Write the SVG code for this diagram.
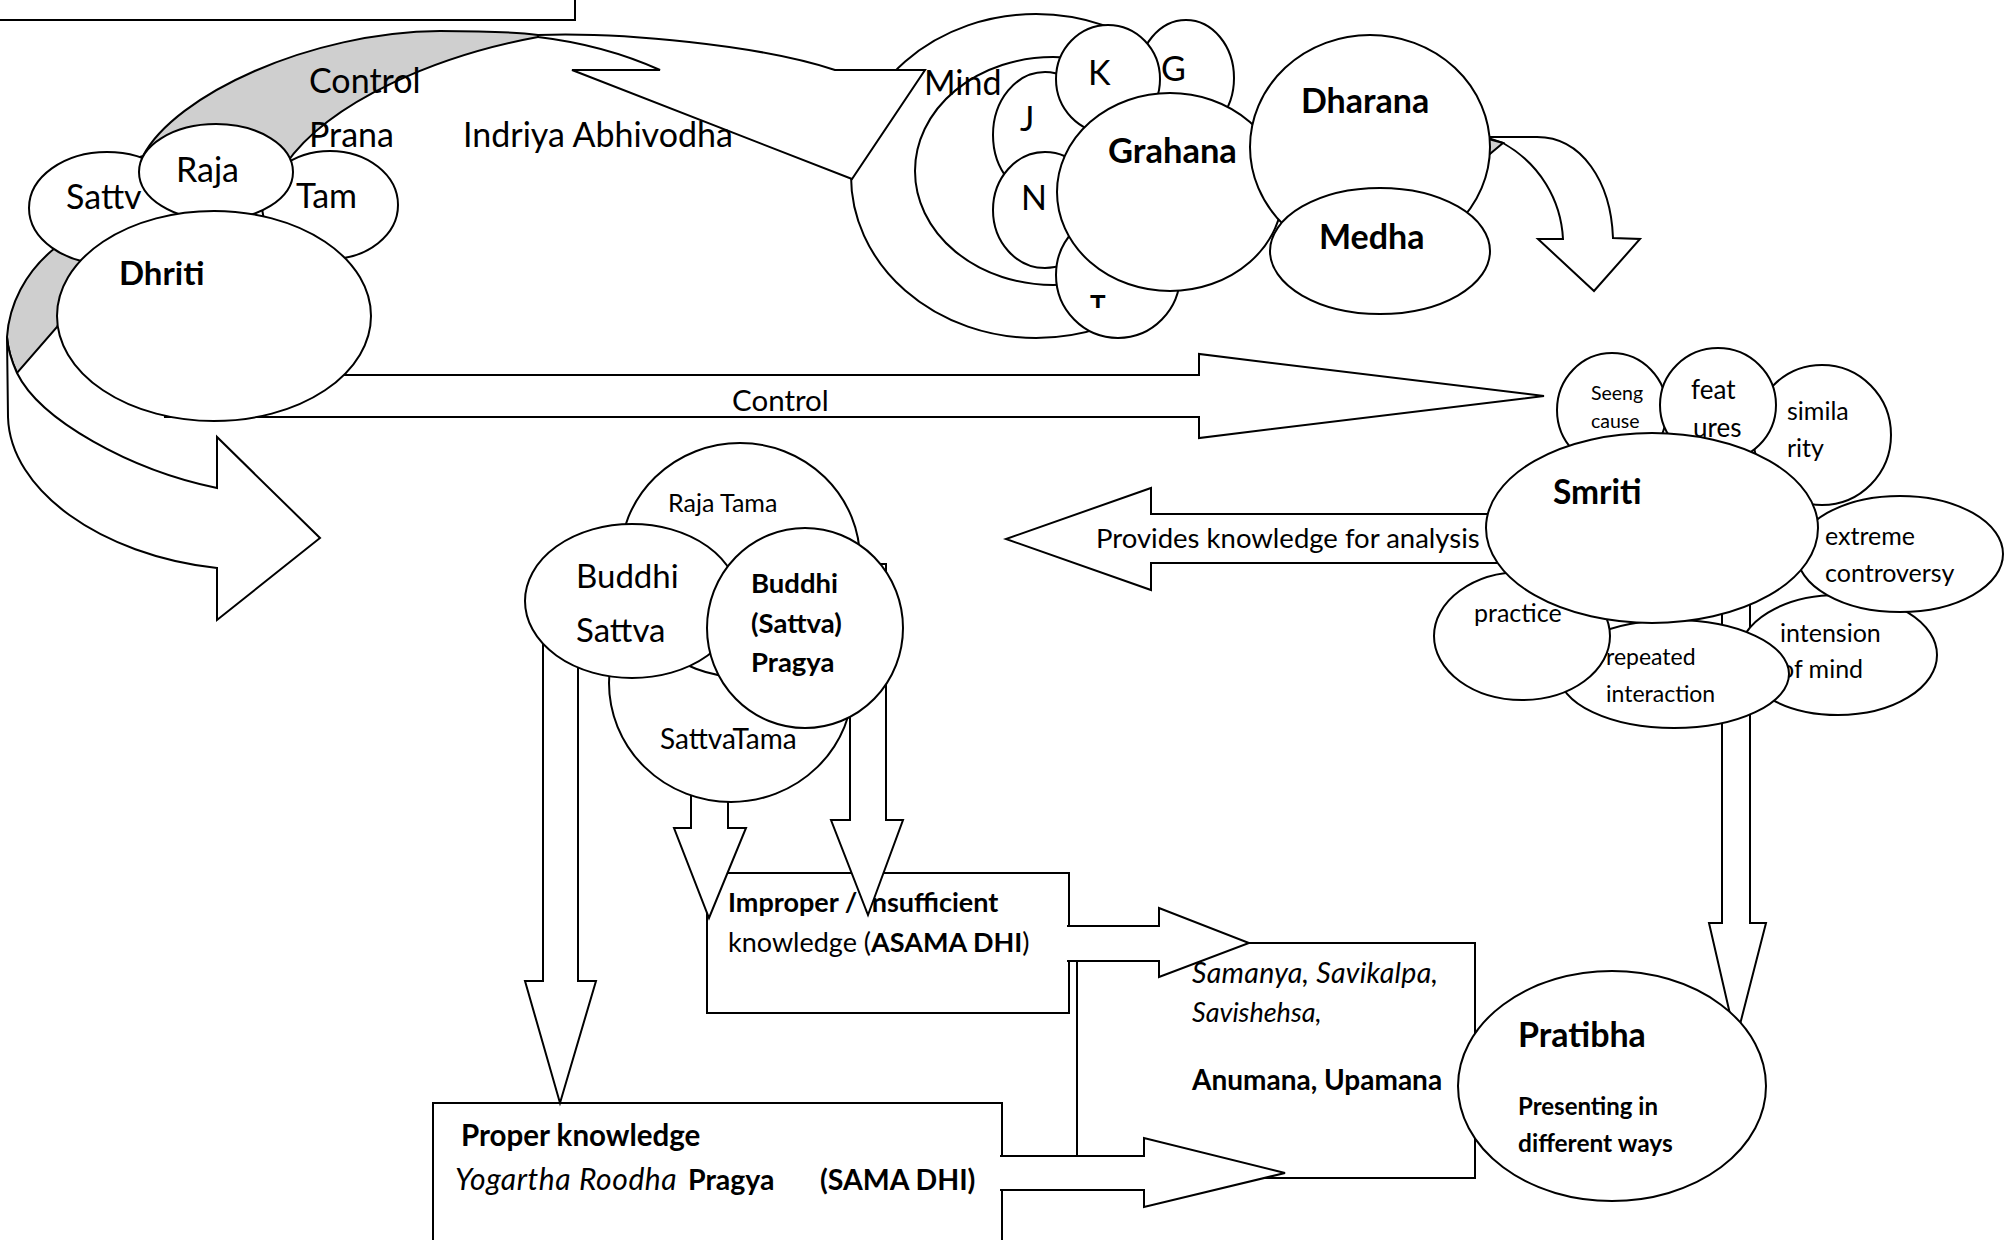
<svg xmlns="http://www.w3.org/2000/svg" width="2004" height="1240" viewBox="0 0 2004 1240">
<style>
  .ln { fill: #fff; stroke: #000; stroke-width: 2; stroke-linejoin: miter; }
  .sh { fill: #cfcfcf; stroke: #000; stroke-width: 2; }
  text { font-family: Lato, "Open Sans", "Liberation Sans", sans-serif; fill: #000; }
  .b { font-weight: bold; }
  .i { font-style: italic; }
  .t34 { font-size: 34px; }
  .t25 { font-size: 25px; }
</style>
<defs>
  <clipPath id="clipT"><rect x="1080" y="280" width="40" height="28"/></clipPath>
</defs>
<rect width="2004" height="1240" fill="#fff"/>

<!-- title frame at the top edge -->
<rect id="title-frame" class="ln" x="-5" y="-5" width="580" height="25"/>

<!-- knowledge boxes -->
<g id="improper">
  <rect class="ln" x="707" y="873" width="362" height="140"/>
  <text class="b" x="728" y="912" font-size="27">Improper / Insufficient</text>
  <text x="728" y="952" font-size="27">knowledge (<tspan class="b">ASAMA DHI</tspan>)</text>
</g>
<g id="proper">
  <rect class="ln" x="433" y="1103" width="569" height="160"/>
  <text class="b" x="461" y="1146" font-size="29.5">Proper knowledge</text>
  <text class="i" x="455" y="1190" font-size="30" letter-spacing="0.6">Yogartha Roodha</text>
  <text class="b" x="688" y="1190" font-size="28.5">Pragya</text>
  <text class="b" x="820" y="1190" font-size="28.5">(SAMA DHI)</text>
</g>
<g id="samanya">
  <rect class="ln" x="1077" y="943" width="398" height="235"/>
  <text class="i" x="1192" y="983" font-size="28.5" letter-spacing="0.3">Samanya, Savikalpa,</text>
  <text class="i" x="1192" y="1022" font-size="27">Savishehsa,</text>
  <text class="b" x="1192" y="1090" font-size="28">Anumana, Upamana</text>
</g>

<!-- mind rings -->
<g id="mind">
  <ellipse class="ln" cx="1036" cy="176" rx="185" ry="162"/>
  <ellipse class="ln" cx="1053" cy="171" rx="138" ry="114"/>
</g>

<!-- connectors -->
<g id="connectors">
  <!-- shaded back face of the curved arrows around Dhriti -->
  <path class="sh" d="M7,337 C9,305 25,272 55,248 L100,170 L143,156 C175,95 310,32 440,31 C480,31 515,32 538,35 L538,37 C440,55 330,100 285,165 L240,150 L185,170 L130,200 L100,255 L70,300 L57,327 L17,373 C12,362 8,350 7,337 Z"/>
  <!-- curved arrow Dhriti -> Buddhi -->
  <path class="ln" d="M7,337 L8,417 C10,490 100,555 217,568 L217,620 L320,538 L217,437 L217,488 C130,470 40,420 17,373 C12,362 8,350 7,337 Z"/>
  <!-- curved arrow Dhriti -> Mind -->
  <path class="ln" d="M538,35 C620,32 760,45 835,70 L925,70 L852,179 L572,70 L660,70 C620,52 580,42 538,37 Z"/>
  <!-- Control: Dhriti -> Smriti -->
  <path class="ln" d="M165,375 L1199,375 L1199,354 L1544,396 L1199,438 L1199,417 L165,417 Z"/>
  <!-- Dharana -> down -->
  <path class="ln" d="M1485,137 L1537,137 C1582,137 1611,182 1613,238 L1640,239 L1594,291 L1538,239 L1563,239 C1561,200 1540,164 1503,143 Z"/>
  <path class="sh" d="M1485,138 L1503,143 L1485,158 Z"/>
  <!-- Smriti -> analysis -->
  <path class="ln" d="M1530,514 L1151,514 L1151,488 L1006,539 L1151,590 L1151,563 L1530,563 Z"/>
  <!-- Smriti -> Pratibha -->
  <path class="ln" d="M1722,590 L1722,923 L1709,923 L1736,1040 L1766,923 L1750,923 L1750,590 Z"/>
  <!-- Buddhi down arrows -->
  <path class="ln" d="M543,600 L543,981 L525,981 L560,1103 L596,981 L578,981 L578,600 Z"/>
  <path class="ln" d="M691,720 L691,828 L674,828 L709,918 L746,828 L728,828 L728,720 Z"/>
  <path class="ln" d="M850,564 L850,820 L831,820 L868,915 L903,820 L886,820 L886,564 Z"/>
  <!-- boxes -> Samanya -->
  <path class="ln" d="M1067,926 L1159,926 L1159,908 L1249,943 L1159,977 L1159,961 L1067,961"/>
  <path class="ln" d="M1000,1156 L1144,1156 L1144,1138 L1285,1173 L1144,1207 L1144,1190 L1000,1190"/>
</g>

<!-- Dhriti and the three gunas -->
<g id="dhriti">
  <ellipse class="ln" cx="107" cy="208" rx="78" ry="56"/>
  <text class="t34" x="66" y="209">Sattv</text>
  <ellipse class="ln" cx="330" cy="205" rx="68" ry="54"/>
  <text class="t34" x="296" y="208">Tam</text>
  <ellipse class="ln" cx="216" cy="172" rx="77" ry="48"/>
  <text class="t34" x="176" y="182">Raja</text>
  <ellipse class="ln" cx="214" cy="316" rx="157" ry="105"/>
  <text class="b" x="119" y="285" font-size="33">Dhriti</text>
</g>

<!-- mind: sense circles, Grahana, Dharana, Medha -->
<g id="mind-parts">
  <text class="t34" x="924" y="95">Mind</text>
  <g id="j"><ellipse class="ln" cx="1045" cy="135" rx="52" ry="63"/><text class="t34" x="1020" y="131">J</text></g>
  <g id="n"><ellipse class="ln" cx="1045" cy="210" rx="52" ry="58"/><text class="t34" x="1021" y="210">N</text></g>
  <g id="t"><ellipse class="ln" cx="1118" cy="275" rx="62" ry="63"/><text class="b" x="1090" y="314" font-size="26" clip-path="url(#clipT)">T</text></g>
  <g id="g"><ellipse class="ln" cx="1186" cy="78" rx="48" ry="58"/><text class="t34" x="1161" y="81">G</text></g>
  <g id="k"><ellipse class="ln" cx="1108" cy="79" rx="52" ry="54"/><text class="t34" x="1088" y="85">K</text></g>
  <g id="grahana"><ellipse class="ln" cx="1170" cy="192" rx="113" ry="99"/><text class="b" x="1108" y="163" font-size="34.5">Grahana</text></g>
  <g id="dharana"><ellipse class="ln" cx="1370" cy="147" rx="120" ry="112"/><text class="b" x="1301" y="113" font-size="34">Dharana</text></g>
  <g id="medha"><ellipse class="ln" cx="1380" cy="251" rx="110" ry="63"/><text class="b" x="1319" y="249" font-size="34">Medha</text></g>
</g>

<!-- Buddhi cluster -->
<g id="buddhi">
  <ellipse class="ln" cx="731" cy="683" rx="122" ry="119"/>
  <text x="660" y="749" font-size="28">SattvaTama</text>
  <ellipse class="ln" cx="740" cy="560" rx="120" ry="117"/>
  <text class="t25" x="668" y="512">Raja Tama</text>
  <ellipse class="ln" cx="632" cy="601" rx="107" ry="77"/>
  <text x="576" y="588" font-size="33">Buddhi</text>
  <text x="576" y="642" font-size="33">Sattva</text>
  <ellipse class="ln" cx="805" cy="628" rx="98" ry="100"/>
  <text class="b" x="751" y="593" font-size="27.5">Buddhi</text>
  <text class="b" x="751" y="633" font-size="27.5">(Sattva)</text>
  <text class="b" x="751" y="672" font-size="27.5">Pragya</text>
</g>

<!-- Smriti and its causes -->
<g id="smriti">
  <g id="seeing-cause"><ellipse class="ln" cx="1612" cy="410" rx="55" ry="57"/>
    <text x="1591" y="400" font-size="19.5">Seeng</text><text x="1591" y="428" font-size="19.5">cause</text></g>
  <g id="similarity"><ellipse class="ln" cx="1822" cy="435" rx="69" ry="70"/>
    <text class="t25" x="1787" y="420">simila</text><text class="t25" x="1787" y="457">rity</text></g>
  <g id="features"><ellipse class="ln" cx="1718" cy="405" rx="58" ry="57"/>
    <text x="1691" y="399" font-size="26">feat</text><text x="1693" y="437" font-size="26">ures</text></g>
  <g id="intension"><ellipse class="ln" cx="1838" cy="655" rx="99" ry="60"/>
    <text class="t25" x="1780" y="642">intension</text><text class="t25" x="1780" y="678">of mind</text></g>
  <g id="controversy"><ellipse class="ln" cx="1900" cy="554" rx="103" ry="58"/>
    <text class="t25" x="1825" y="545">extreme</text><text class="t25" x="1825" y="582">controversy</text></g>
  <g id="repeated"><ellipse class="ln" cx="1674" cy="674" rx="115" ry="54"/>
    <text x="1606" y="665" font-size="23">repeated</text><text x="1606" y="702" font-size="23">interaction</text></g>
  <g id="practice"><ellipse class="ln" cx="1522" cy="636" rx="88" ry="64"/>
    <text class="t25" x="1474" y="622">practice</text></g>
  <g id="smriti-core"><ellipse class="ln" cx="1652" cy="528" rx="166" ry="95"/>
    <text class="b" x="1553" y="504" font-size="33.5">Smriti</text></g>
</g>

<!-- Pratibha -->
<g id="pratibha">
  <ellipse class="ln" cx="1612" cy="1086" rx="154" ry="115"/>
  <text class="b" x="1518" y="1047" font-size="34">Pratibha</text>
  <text class="b" x="1518" y="1115" font-size="24">Presenting in</text>
  <text class="b" x="1518" y="1152" font-size="24.5">different ways</text>
</g>

<!-- connector labels -->
<g id="labels">
  <text class="t34" x="309" y="93">Control</text>
  <text class="t34" x="309" y="147">Prana</text>
  <text class="t34" x="463" y="147">Indriya Abhivodha</text>
  <text x="732" y="411" font-size="29.5">Control</text>
  <text x="1096" y="548" font-size="27.5">Provides knowledge for analysis</text>
</g>
</svg>
